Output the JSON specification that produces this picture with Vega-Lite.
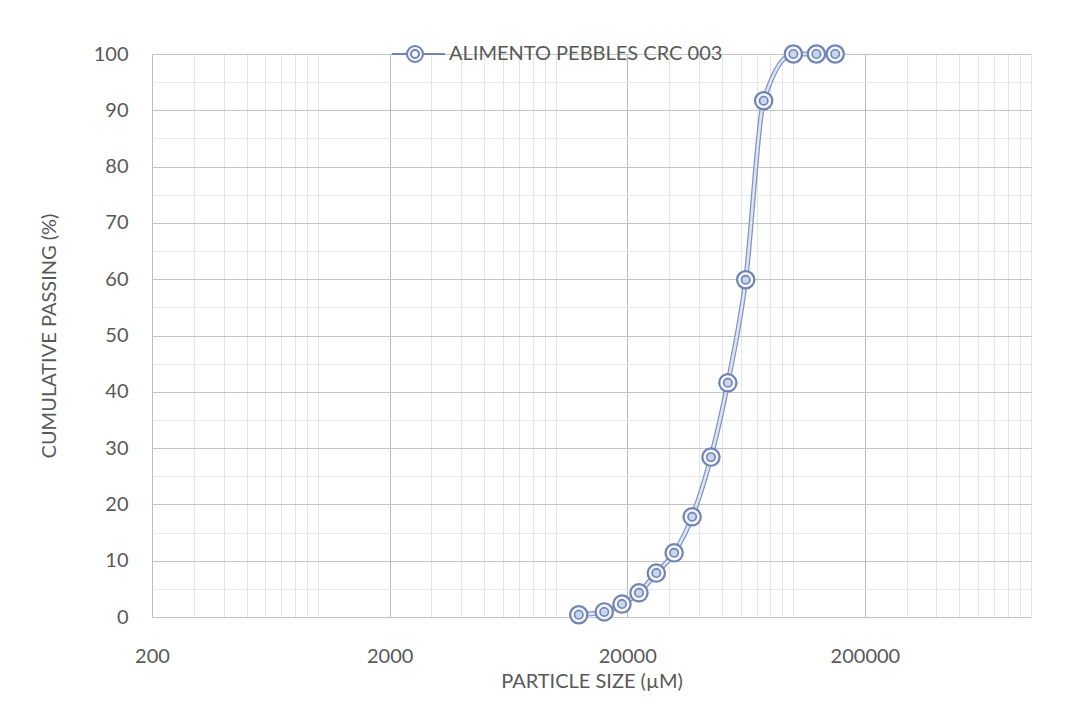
{
  "$schema": "https://vega.github.io/schema/vega-lite/v6.json",
  "autosize": {"type": "none"},
  "width": 879,
  "height": 563,
  "padding": {"left": 152, "top": 54, "right": 56, "bottom": 109},
  "background": "#ffffff",
  "config": {
    "font": "Lato",
    "view": {"stroke": null},
    "axis": {"labelColor": "#595959", "titleColor": "#595959", "labelFont": "Lato", "titleFont": "Lato", "titleFontWeight": "normal"}
  },
  "data": {
    "values": [
      {"size": 12500, "passing": 0.4, "series": "ALIMENTO PEBBLES CRC 003"},
      {"size": 16000, "passing": 0.9, "series": "ALIMENTO PEBBLES CRC 003"},
      {"size": 19000, "passing": 2.3, "series": "ALIMENTO PEBBLES CRC 003"},
      {"size": 22400, "passing": 4.3, "series": "ALIMENTO PEBBLES CRC 003"},
      {"size": 26500, "passing": 7.8, "series": "ALIMENTO PEBBLES CRC 003"},
      {"size": 31500, "passing": 11.4, "series": "ALIMENTO PEBBLES CRC 003"},
      {"size": 37500, "passing": 17.8, "series": "ALIMENTO PEBBLES CRC 003"},
      {"size": 45000, "passing": 28.4, "series": "ALIMENTO PEBBLES CRC 003"},
      {"size": 53000, "passing": 41.6, "series": "ALIMENTO PEBBLES CRC 003"},
      {"size": 63000, "passing": 59.9, "series": "ALIMENTO PEBBLES CRC 003"},
      {"size": 75000, "passing": 91.7, "series": "ALIMENTO PEBBLES CRC 003"},
      {"size": 100000, "passing": 100, "series": "ALIMENTO PEBBLES CRC 003"},
      {"size": 125000, "passing": 100, "series": "ALIMENTO PEBBLES CRC 003"},
      {"size": 150000, "passing": 100, "series": "ALIMENTO PEBBLES CRC 003"}
    ]
  },
  "encoding": {
    "x": {
      "field": "size",
      "type": "quantitative",
      "scale": {"type": "log", "domain": [200, 1000000], "nice": false},
      "axis": {
        "title": "PARTICLE SIZE (µM)",
        "titleFontSize": 20,
        "titlePadding": 5,
        "labelFontSize": 20,
        "labelPadding": 29,
        "labelOverlap": false,
        "labelBound": false,
        "labelFlush": false,
        "ticks": false,
        "domain": false,
        "grid": true,
        "gridColor": {"condition": {"test": "indexof([200,2000,20000,200000], datum.value) >= 0", "value": "#bdbdbd"}, "value": "#e4e4e4"},
        "gridWidth": 1,
        "tickValues": [200, 400, 600, 800, 1000, 1200, 1400, 1600, 1800,
                       2000, 4000, 6000, 8000, 10000, 12000, 14000, 16000, 18000,
                       20000, 40000, 60000, 80000, 100000, 120000, 140000, 160000, 180000,
                       200000, 400000, 600000, 800000, 1000000],
        "labelExpr": "indexof([200,2000,20000,200000], datum.value) >= 0 ? '' + datum.value : ''"
      }
    },
    "y": {
      "field": "passing",
      "type": "quantitative",
      "scale": {"domain": [0, 100], "nice": false},
      "axis": {
        "title": "CUMULATIVE PASSING  (%)",
        "titleFontSize": 20,
        "titlePadding": 34,
        "labelFontSize": 20,
        "labelPadding": 24,
        "labelOverlap": false,
        "labelBound": false,
        "labelFlush": false,
        "ticks": false,
        "domain": false,
        "grid": true,
        "gridColor": {"condition": {"test": "datum.value % 10 === 0", "value": "#c4c4c4"}, "value": "#e8e8e8"},
        "tickValues": [0, 2, 4, 6, 8, 10, 12, 14, 16, 18, 20, 22, 24, 26, 28, 30, 32, 34, 36, 38, 40, 42, 44, 46, 48, 50, 52, 54, 56, 58, 60, 62, 64, 66, 68, 70, 72, 74, 76, 78, 80, 82, 84, 86, 88, 90, 92, 94, 96, 98, 100],
        "labelExpr": "datum.value % 10 === 0 ? '' + datum.value : ''"
      }
    }
  },
  "layer": [
    {
      "mark": {"type": "line", "interpolate": "monotone", "stroke": "#8194c2", "strokeWidth": 5, "clip": false}
    },
    {
      "mark": {"type": "line", "interpolate": "monotone", "stroke": "#dde5f4", "strokeWidth": 2.5, "clip": false}
    },
    {
      "mark": {"type": "point", "shape": "circle", "size": 300, "filled": true, "fill": "#f3f6fc", "strokeWidth": 2.2, "opacity": 1},
      "encoding": {
        "stroke": {
          "field": "series",
          "type": "nominal",
          "scale": {"range": ["#6f83b5"]},
          "legend": {
            "title": null,
            "orient": "none",
            "legendX": 253,
            "legendY": -10,
            "symbolType": "M-2.9,0L-1,0M1,0L3.75,0M-1,0A1,1 0 1,1 1,0A1,1 0 1,1 -1,0M-0.5,0A0.5,0.5 0 1,1 0.5,0A0.5,0.5 0 1,1 -0.5,0",
            "symbolSize": 256,
            "symbolFillColor": "#e6ecf7",
            "symbolStrokeColor": "#7f93c0",
            "symbolStrokeWidth": 2,
            "labelFontSize": 20,
            "labelColor": "#595959",
            "labelLimit": 0,
            "labelOffset": 24
          }
        }
      }
    },
    {
      "mark": {"type": "point", "shape": "circle", "size": 70, "filled": true, "fill": "#c9d6ef", "stroke": "#6f83b5", "strokeWidth": 1.6, "opacity": 1}
    }
  ]
}
